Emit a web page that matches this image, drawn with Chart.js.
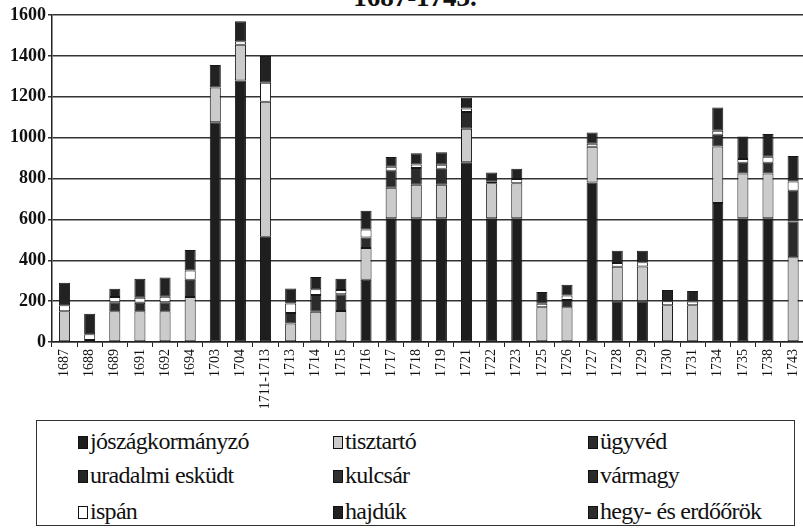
<!DOCTYPE html>
<html>
<head>
<meta charset="utf-8">
<script src="https://cdn.jsdelivr.net/npm/chart.js@4.4.1/dist/chart.umd.min.js"></script>
<style>
  html, body { margin: 0; padding: 0; background: #fff; width: 803px; height: 529px; overflow: hidden; position: relative; }
  #title { position: absolute; top: -16px; left: 300px; width: 230px; text-align: center; font-weight: bold; font-size: 27px; line-height: 27px; color: #111; }
  #chart { position: absolute; left: 0; top: 0; }
  #legend { position: absolute; left: 36px; top: 420px; width: 759px; height: 106px; border: 1.5px solid #333; box-sizing: border-box; }
  .item { position: absolute; font-size: 24px; letter-spacing: -0.7px; color: #111; white-space: nowrap; line-height: 26px; }
  .item i { display: inline-block; width: 10px; height: 13px; border: 1px solid #111; box-sizing: border-box; margin-right: 2px; vertical-align: 0px; }
  .serif { font-family: "Liberation Serif", "Times New Roman", Tinos, "DejaVu Serif", serif; }
</style>
</head>
<body>
<div id="title" class="serif">1687-1743.</div>
<canvas id="chart" width="812" height="414"></canvas>
<div id="legend" class="serif"></div>
<script>
"use strict";

// 1: data
let years = ['1687', '1688', '1689', '1691', '1692', '1694', '1703', '1704', '1711-1713', '1713',
  '1714', '1715', '1716', '1717', '1718', '1719', '1721', '1722', '1723', '1725',
  '1726', '1727', '1728', '1729', '1730', '1731', '1734', '1735', '1738', '1743'];

let jozsagkormanyzo = [0, 10, 0, 0, 0, 0, 1075, 1280, 515, 0,
  0, 0, 305, 605, 605, 605, 880, 605, 605, 0,
  0, 780, 200, 200, 0, 0, 680, 605, 605, 0];
let tisztarto = [150, 0, 150, 150, 150, 220, 170, 175, 660, 90,
  148, 152, 155, 150, 164, 164, 163, 172, 172, 170,
  170, 175, 168, 170, 180, 180, 277, 219, 219, 415];
let ugyved = [0, 0, 45, 42, 45, 85, 0, 0, 0, 52,
  82, 82, 51, 83, 82, 79, 82, 0, 0, 0,
  35, 0, 0, 0, 0, 0, 57, 53, 53, 175];
let uradalmiEskudt = [0, 0, 0, 0, 0, 0, 0, 0, 0, 0,
  0, 0, 0, 0, 0, 0, 0, 0, 0, 0,
  0, 0, 0, 0, 0, 0, 0, 0, 0, 150];
let kulcsar = [0, 0, 0, 0, 0, 0, 0, 0, 0, 0,
  0, 0, 0, 0, 0, 0, 0, 0, 0, 0,
  0, 0, 0, 0, 0, 0, 0, 0, 0, 0];
let varnagy = [0, 0, 0, 0, 0, 0, 0, 0, 0, 0,
  0, 0, 0, 0, 0, 0, 0, 0, 0, 0,
  0, 0, 0, 0, 0, 0, 0, 0, 0, 0];
let ispan = [30, 28, 25, 24, 27, 45, 0, 16, 94, 46,
  28, 20, 40, 19, 17, 19, 18, 10, 20, 17,
  22, 15, 19, 20, 20, 18, 20, 19, 30, 45];
let hajduk = [110, 100, 40, 94, 93, 100, 110, 99, 131, 74,
  60, 56, 91, 48, 55, 61, 52, 42, 51, 58,
  53, 55, 60, 57, 54, 52, 114, 109, 111, 125];
let hegyErdoorok = [0, 0, 0, 0, 0, 0, 0, 0, 0, 0,
  0, 0, 0, 0, 0, 0, 0, 0, 0, 0,
  0, 0, 0, 0, 0, 0, 0, 0, 0, 0];

// stacking order, bottom first
let series = [
  { label: 'jószágkormányzó', data: jozsagkormanyzo, color: '#1e1e1e' },
  { label: 'tisztartó', data: tisztarto, color: '#cbcbcb' },
  { label: 'ügyvéd', data: ugyved, color: '#2b2b2b' },
  { label: 'uradalmi esküdt', data: uradalmiEskudt, color: '#262626' },
  { label: 'kulcsár', data: kulcsar, color: '#303030' },
  { label: 'vármagy', data: varnagy, color: '#2a2a2a' },
  { label: 'ispán', data: ispan, color: '#ffffff' },
  { label: 'hajdúk', data: hajduk, color: '#222222' },
  { label: 'hegy- és erdőőrök', data: hegyErdoorok, color: '#2d2d2d' }
];

// 2: prepare data for chart
function prepareData() {
  return {
    labels: years,
    datasets: series.map(s => ({
      label: s.label,
      data: s.data.map(v => v === 0 ? null : v),
      backgroundColor: s.color,
      borderColor: '#161616',
      borderWidth: 1,
      borderSkipped: false,
      barPercentage: 0.44,
      categoryPercentage: 1
    }))
  };
}

// 3: create and append the chart
function appendChart() {
  let serif = '"Liberation Serif", "Times New Roman", Tinos, "DejaVu Serif", serif';
  new Chart(document.getElementById('chart'), {
    type: 'bar',
    data: prepareData(),
    options: {
      responsive: false,
      animation: false,
      devicePixelRatio: 1,
      layout: { padding: { top: 15, right: 5, left: 0, bottom: 0 } },
      plugins: { legend: { display: false }, title: { display: false }, tooltip: { enabled: false } },
      scales: {
        x: {
          stacked: true,
          grid: { drawOnChartArea: false, drawTicks: true, tickLength: 5, offset: true, color: '#222', lineWidth: 1 },
          border: { color: '#222', width: 1.5 },
          ticks: { minRotation: 90, maxRotation: 90, autoSkip: false, padding: 2, color: '#111', font: { family: serif, size: 14 } },
          afterFit: s => { s.height = 72; }
        },
        y: {
          stacked: true,
          min: 0,
          max: 1600,
          grid: { color: '#333', lineWidth: 1.5, tickLength: 4 },
          border: { color: '#222', width: 1.5 },
          ticks: { stepSize: 200, padding: 2, color: '#111', font: { family: serif, size: 18, weight: 'bold' },
            callback: v => String(v) },
          afterFit: s => { s.width = 52; }
        }
      }
    }
  });
}

// legend in three columns, row by row
function appendLegend() {
  let box = document.getElementById('legend');
  let cols = [41, 296, 551];
  let rows = [7, 41, 77];
  series.forEach((s, k) => {
    let el = document.createElement('div');
    el.className = 'item';
    el.style.left = cols[k % 3] + 'px';
    el.style.top = rows[Math.floor(k / 3)] + 'px';
    let sw = document.createElement('i');
    sw.style.background = s.color;
    el.appendChild(sw);
    el.appendChild(document.createTextNode(s.label));
    box.appendChild(el);
  });
}

appendChart();
appendLegend();
</script>
</body>
</html>
